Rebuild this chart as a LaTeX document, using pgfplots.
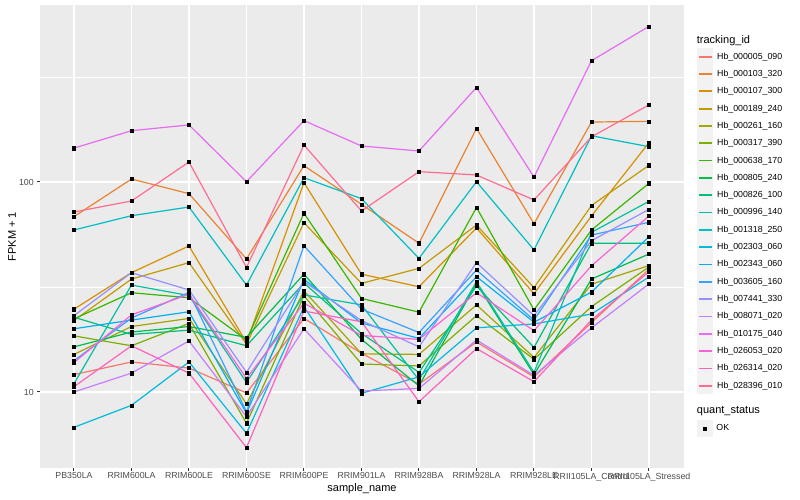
\documentclass[border=0pt]{standalone}
\usepackage{fontspec}
\setmainfont{Liberation Sans}
\usepackage{pgfplots}
\pgfplotsset{compat=1.18}
\usepackage{pgfplotstable}

\definecolor{c1}{HTML}{F8766D}
\definecolor{c2}{HTML}{EA8331}
\definecolor{c3}{HTML}{D89000}
\definecolor{c4}{HTML}{C09B00}
\definecolor{c5}{HTML}{A3A500}
\definecolor{c6}{HTML}{7CAE00}
\definecolor{c7}{HTML}{39B600}
\definecolor{c8}{HTML}{00BB4E}
\definecolor{c9}{HTML}{00BF7D}
\definecolor{c10}{HTML}{00C1A3}
\definecolor{c11}{HTML}{00BFC4}
\definecolor{c12}{HTML}{00BAE0}
\definecolor{c13}{HTML}{00B0F6}
\definecolor{c14}{HTML}{35A2FF}
\definecolor{c15}{HTML}{9590FF}
\definecolor{c16}{HTML}{C77CFF}
\definecolor{c17}{HTML}{E76BF3}
\definecolor{c18}{HTML}{FA62DB}
\definecolor{c19}{HTML}{FF62BC}
\definecolor{c20}{HTML}{FF6C91}
\definecolor{panel}{HTML}{EBEBEB}
\definecolor{keybg}{HTML}{F2F2F2}
\definecolor{gray30}{HTML}{4D4D4D}
\definecolor{gray20}{HTML}{333333}

\pgfplotstableread{
x s1 s2 s3 s4 s5 s6 s7 s8 s9 s10 s11 s12 s13 s14 s15 s16 s17 s18 s19 s20
0 12.1 68.4 24.8 21.9 15.1 18.5 22.3 16.4 22.7 10.95 59.1 6.79 20.0 14.1 23.1 10.0 145 13.8 10.6 72.0
1 13.9 103.3 37.0 34.5 20.5 16.6 29.7 19.3 18.8 32.3 69.1 8.64 22.0 22.5 37.0 12.3 175.5 23.3 16.6 81.2
2 13.0 88 49.6 41.3 22.4 21.2 28.1 20.5 19.7 28.8 76.0 13.9 24.1 29.8 30.6 17.5 187 29.2 12.3 124.5
3 9.9 43.0 17.2 16.9 8.77 7.1 17.7 18.2 16.6 11.1 32.3 6.36 7.92 8.06 12.4 7.63 100.3 11.6 5.43 39.2
4 22.4 119.6 99.2 64.0 30.3 28.7 71.0 36.4 33.0 29.0 104.8 25.5 34.4 49.7 33.5 20.0 196 26.5 24.3 150
5 15.3 78.3 36.4 32.9 15.2 13.6 27.9 17.8 19.0 26.0 83.3 9.86 21.3 24.8 21.9 10.1 148.4 18.6 21.6 72.8
6 10.9 51.1 31.7 38.8 15.1 13.3 24.0 10.7 12.4 11.4 43.3 11.8 18.0 19.2 16.4 10.4 140.5 17.8 8.99 112
7 17.3 180 60.4 62.4 26.0 23.1 75.6 32.9 32.0 33.5 100.3 20.2 35.4 38.1 41.3 17.7 282 29.7 16.1 108
8 11.8 63.3 29.4 31.4 14.6 14.3 24.6 12.1 16.3 12.4 47.5 21.1 21.5 22.0 23.1 12.0 105.6 19.6 11.2 82.1
9 21.4 193 68.9 77.3 32.6 25.5 59.1 34.5 51.1 57.6 166 23.5 29.9 55.9 52.5 20.2 378 39.9 22.0 164
10 38.4 194.5 154 120.1 40.0 39.4 98.6 45.4 51.1 80.9 147.3 35.3 54.9 64.3 74.1 32.7 551 68.9 37.4 233
}\data

\begin{document}
\begin{tikzpicture}
\fill[white] (0pt,0pt) rectangle (800pt,500pt);
\begin{axis}[
  at={(40pt,32pt)}, anchor=south west,
  width=644pt, height=463pt, scale only axis,
  xmin=-0.591, xmax=10.609,
  ymode=log, ymin=4.346, ymax=696.5,
  axis background/.style={fill=panel},
  axis line style={draw=none},
  xtick={0,...,10},
  xticklabels={PB350LA,RRIM600LA,RRIM600LE,RRIM600SE,RRIM600PE,RRIM901LA,RRIM928BA,RRIM928LA,RRIM928LE,RRII105LA\_Control,RRII105LA\_Stressed},
  ytick={10,100}, yticklabels={10,100},
  minor ytick={31.623,316.23},
  xmajorgrids, ymajorgrids, yminorgrids,
  major grid style={white, line width=1.1pt},
  minor grid style={white, line width=0.55pt},
  tick align=outside, major tick length=2.75pt, minor tick length=0pt,
  tick pos=left,
  tick style={gray20, line width=1.0pt},
  xticklabel style={font=\fontsize{8.8}{10}\selectfont, text=gray30, yshift=1.5pt},
  yticklabel style={font=\fontsize{8.8}{10}\selectfont, text=gray30},
  xlabel={sample\_name},
  ylabel={FPKM + 1},
  xlabel style={font=\fontsize{11}{13}\selectfont, at={(axis description cs:0.5,-0.0497)}, anchor=base, inner sep=0pt},
  ylabel style={font=\fontsize{11}{13}\selectfont, at={(axis description cs:-0.0373,0.5)}, anchor=base, inner sep=0pt},
  legend entries={Hb\_000005\_090,Hb\_000103\_320,Hb\_000107\_300,Hb\_000189\_240,Hb\_000261\_160,Hb\_000317\_390,Hb\_000638\_170,Hb\_000805\_240,Hb\_000826\_100,Hb\_000996\_140,Hb\_001318\_250,Hb\_002303\_060,Hb\_002343\_060,Hb\_003605\_160,Hb\_007441\_330,Hb\_008071\_020,Hb\_010175\_040,Hb\_026053\_020,Hb\_026314\_020,Hb\_028396\_010},
  legend cell align=left,
  legend style={at={(axis description cs:1.0206,0.9071)}, anchor=north west,
    draw=none, fill=none, inner sep=0pt, outer sep=0pt,
    row sep=0pt, column sep=3.7pt,
    font=\fontsize{8.8}{10}\selectfont,
    nodes={inner sep=0pt, outer sep=0pt}},
  legend image code/.code={\fill[keybg] (0pt,-8.06pt) rectangle (15pt,8.06pt); \draw[line width=1.8pt] (1pt,0pt) -- (14pt,0pt);},
]
\pgfplotsinvokeforeach{1,...,20}{
  \addplot[color=c#1, line width=1.2pt, no markers] table[x=x,y=s#1]{\data};
}
\pgfplotsinvokeforeach{1,...,20}{
  \addplot[only marks, mark=square*, mark size=1.6pt, black, forget plot] table[x=x,y=s#1]{\data};
}
\end{axis}
\node[anchor=west, inner sep=0pt, font=\fontsize{11}{13}\selectfont] at (696.7pt,459.3pt) {tracking\_id};
\node[anchor=west, inner sep=0pt, font=\fontsize{11}{13}\selectfont] at (696.7pt,89pt) {quant\_status};
\begin{axis}[
  at={(697.3pt,63.4pt)}, anchor=south west,
  width=15pt, height=17.28pt, scale only axis, hide axis,
  xmin=0, xmax=1, ymin=0, ymax=1,
  legend cell align=left,
  legend style={at={(0,0)}, anchor=south west, draw=none, fill=none, inner sep=0pt, outer sep=0pt, column sep=3.7pt, font=\fontsize{8.8}{10}\selectfont, nodes={inner sep=0pt, outer sep=0pt}},
]
\addlegendimage{legend image code/.code={\fill[keybg] (0pt,-8.06pt) rectangle (15pt,8.06pt); \fill[black] (5.9pt,-1.6pt) rectangle (9.1pt,1.6pt);}}
\addlegendentry{OK}
\end{axis}
\end{tikzpicture}
\end{document}
